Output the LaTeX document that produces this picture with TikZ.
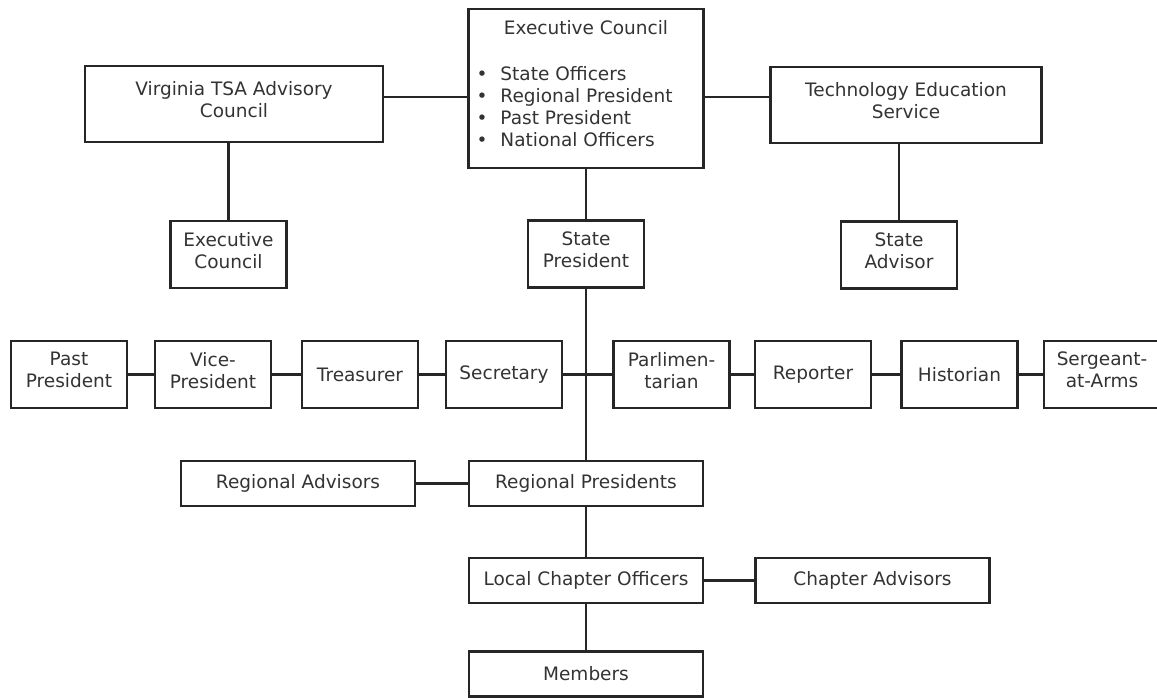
\documentclass[tikz,border=0pt]{standalone}
\usepackage{fontspec}
\setmainfont{DejaVu Sans}
\usetikzlibrary{positioning}

\definecolor{inkline}{HTML}{262626}
\definecolor{inktext}{HTML}{333333}
\newcommand{\bul}[1]{\makebox[219pt][l]{\makebox[24pt][l]{\textbullet}#1}}

\begin{document}
\begin{tikzpicture}[
    x=1pt, y=-1pt,
    node distance=28pt,
    box/.style={draw=inkline, line width=2.6pt, align=center, text=inktext, font=\fontsize{18.5}{22}\selectfont, inner sep=2pt, outer sep=0pt},
    twoline/.style={text depth=9pt},
    office/.style={box, minimum width=116pt, minimum height=67pt},
    wide/.style={box, minimum width=234pt, minimum height=45pt},
    link/.style={draw=inkline, line width=2.4pt}
]
\useasboundingbox (0,0) rectangle (1157,698);

% top level
\node[box, text depth=10pt, minimum width=235pt, minimum height=159pt] (exec) at (586,88.5)
    {Executive Council\\[23.4pt]\bul{State Officers}\\\bul{Regional President}\\\bul{Past President}\\\bul{National Officers}};
\node[box, twoline, minimum width=298pt, minimum height=76pt] (virg) at (234,104) {Virginia TSA Advisory\\Council};
\node[box, twoline, minimum width=271pt, minimum height=76pt] (tes) at (906,105) {Technology Education\\Service};
\node[office, twoline] (exsmall) at (228.5,254.5) {Executive\\Council};
\node[office, twoline] (stpres) at (586,254) {State\\President};
\node[office, twoline] (stadv) at (899,255) {State\\Advisor};

% state officers
\node[office] (sec) at (504,374.5) {Secretary};
\node[office, left=of sec] (treas) {Treasurer};
\node[office, twoline, left=31pt of treas] (vice) {Vice-\\President};
\node[office, twoline, left=of vice] (past) {Past\\President};
\node[office, twoline, right=51.5pt of sec] (parl) {Parlimen-\\tarian};
\node[office, right=25.5pt of parl] (rep) {Reporter};
\node[office, right=30.5pt of rep] (hist) {Historian};
\node[office, twoline, right=26.5pt of hist] (serg) {Sergeant-\\at-Arms};

% regions and chapters
\node[wide] (regpres) at (586,483.5) {Regional Presidents};
\node[wide, left=54pt of regpres] (regadv) {Regional Advisors};
\node[wide, below=52pt of regpres] (locchap) {Local Chapter Officers};
\node[wide, right=52.5pt of locchap] (chapadv) {Chapter Advisors};
\node[wide, below=48.5pt of locchap] (members) {Members};

\coordinate (top) at (0,97);
\draw[link] (virg.east |- top) -- (exec.west |- top);
\draw[link] (exec.east |- top) -- (tes.west |- top);
\draw[link] (exsmall.north |- virg.south) -- (exsmall.north);
\draw[link] (stadv.north |- tes.south) -- (stadv.north);
\draw[link] (exec) -- (stpres);
\draw[link] (stpres) -- (regpres);
\draw[link] (past) -- (vice);
\draw[link] (vice) -- (treas);
\draw[link] (treas) -- (sec);
\draw[link] (sec) -- (parl);
\draw[link] (parl) -- (rep);
\draw[link] (rep) -- (hist);
\draw[link] (hist) -- (serg);
\draw[link] (regadv) -- (regpres);
\draw[link] (regpres) -- (locchap);
\draw[link] (locchap) -- (chapadv);
\draw[link] (locchap) -- (members);
\end{tikzpicture}
\end{document}
